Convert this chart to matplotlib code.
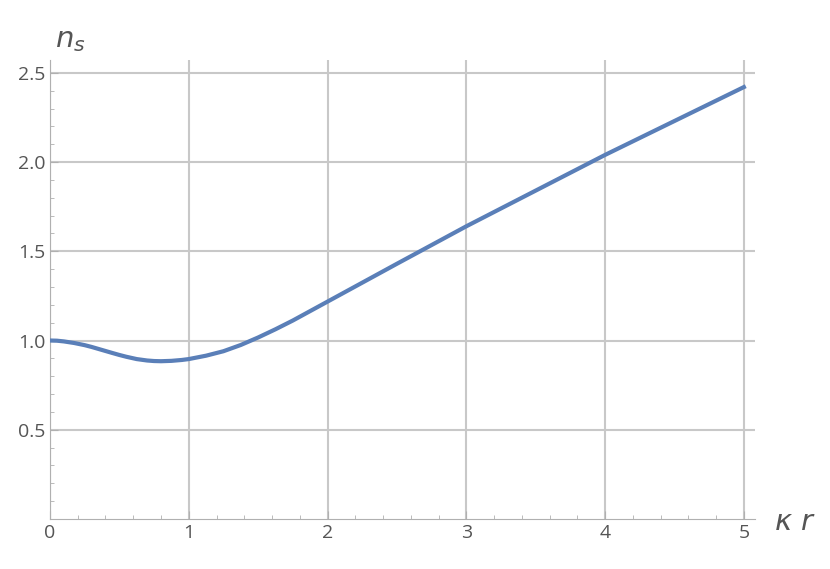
import matplotlib
matplotlib.use("Agg")
import matplotlib.pyplot as plt
from matplotlib.ticker import MultipleLocator

kr = [0, 0.05, 0.1, 0.175, 0.25, 0.3, 0.375, 0.45, 0.5, 0.55, 0.625, 0.7, 0.75, 0.8, 0.875, 0.95, 1.0, 1.125, 1.25, 1.375, 1.5, 1.625, 1.75, 1.875, 2.0, 2.25, 2.5, 3.0, 3.5, 4.0, 4.5, 5.0]
ns = [1.0, 0.999, 0.995, 0.986, 0.974, 0.964, 0.947, 0.93, 0.919, 0.909, 0.896, 0.888, 0.885, 0.884, 0.886, 0.891, 0.896, 0.915, 0.94, 0.975, 1.017, 1.063, 1.112, 1.165, 1.218, 1.324, 1.43, 1.64, 1.84, 2.04, 2.23, 2.42]

plt.rcParams['font.family'] = ['Open Sans', 'DejaVu Sans']
fig = plt.figure(figsize=(8.3, 5.69), dpi=100)
ax = fig.add_axes([0.0602, 0.0879, 0.9096 - 0.0602, 0.894 - 0.0879])
ax.plot(kr, ns, color="#5A7FB8", lw=3, zorder=3)
ax.set_xlim(0, 5.08)
ax.set_ylim(0, 2.57)
ax.xaxis.set_major_locator(MultipleLocator(1))
ax.xaxis.set_minor_locator(MultipleLocator(0.2))
ax.yaxis.set_minor_locator(MultipleLocator(0.1))
ax.set_yticks([0.5, 1.0, 1.5, 2.0, 2.5])
ax.set_yticklabels(["0.5", "1.0", "1.5", "2.0", "2.5"])
ax.grid(True, which="major", color="#c8c8c8", lw=1.5)
for s in ["top", "right"]:
    ax.spines[s].set_visible(False)
for s in ["left", "bottom"]:
    ax.spines[s].set_color("#b0b0b0")
ax.tick_params(which="both", direction="in", colors="#b0b0b0", labelcolor="#555555", labelsize=14)
ax.tick_params(which="major", length=6)
ax.tick_params(which="minor", length=3)
fig.text(55/830, 1 - 40/569, r"$n_s$", fontsize=21, color="#555555", ha="left", va="center")
fig.text(795/830, 1 - 522/569, r"$\kappa\ r$", fontsize=21, color="#555555", ha="center", va="center")
fig.savefig("out.png", dpi=100)
